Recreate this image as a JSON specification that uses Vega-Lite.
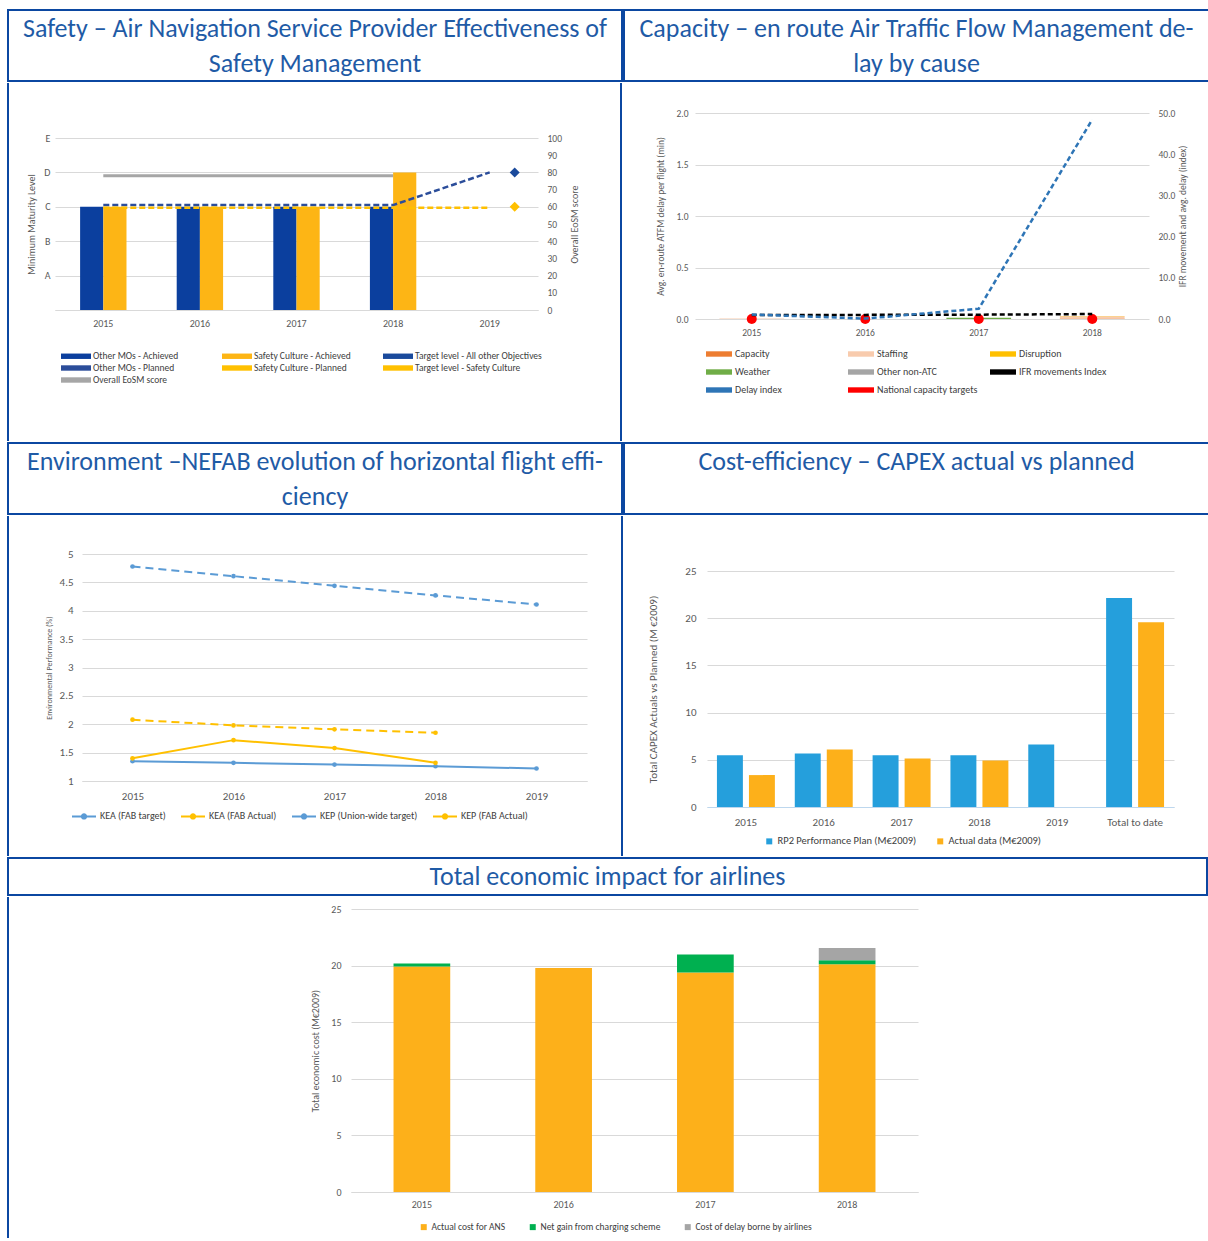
{
"$schema": "https://vega.github.io/schema/vega-lite/v6.json",
"background": "white",
"padding": {"left": 7, "top": 9, "right": 0, "bottom": 0},
"config": {
 "view": {"stroke": null},
 "font": "Carlito, Lato, sans-serif",
 "axis": {"labelColor": "#595959", "titleColor": "#595959", "titleFontWeight": "normal", "gridColor": "#d9d9d9", "domain": false, "ticks": false, "labelFont": "Carlito, Lato, sans-serif", "titleFont": "Carlito, Lato, sans-serif"},
 "legend": {"labelColor": "#404040", "padding": 0, "labelFont": "Carlito, Lato, sans-serif"},
 "title": {"font": "Carlito, Lato, sans-serif"}
},
"spacing": 0,
"resolve": {"scale": {"color": "independent"}},
"vconcat": [
 {
  "spacing": 0,
  "hconcat": [
   {"width": 614, "height": 71, "view": {"stroke": "#0b47a1", "strokeWidth": 2},
    "data": {"values": [{"t": "Safety – Air Navigation Service Provider Effectiveness of\nSafety Management"}]},
    "mark": {"type": "text", "lineBreak": "\n", "fontSize": 26, "lineHeight": 35, "color": "#1f5ba6", "baseline": "middle"},
    "encoding": {"text": {"field": "t", "type": "nominal"},
      "x": {"datum": 0.5, "type": "quantitative", "scale": {"domain": [0, 1]}, "axis": null},
      "y": {"datum": 0.7324, "type": "quantitative", "scale": {"domain": [0, 1]}, "axis": null}}},
   {"width": 585, "height": 71, "view": {"stroke": "#0b47a1", "strokeWidth": 2},
    "data": {"values": [{"t": "Capacity – en route Air Traffic Flow Management de-\nlay by cause"}]},
    "mark": {"type": "text", "lineBreak": "\n", "fontSize": 26, "lineHeight": 35, "color": "#1f5ba6", "baseline": "middle"},
    "encoding": {"text": {"field": "t", "type": "nominal"},
      "x": {"datum": 0.5, "type": "quantitative", "scale": {"domain": [0, 1]}, "axis": null},
      "y": {"datum": 0.7324, "type": "quantitative", "scale": {"domain": [0, 1]}, "axis": null}}}
  ]
 },
 {
  "spacing": 0,
  "resolve": {"scale": {"color": "independent"}},
  "hconcat": [
   {"width": 18, "height": 358, "data": {"values": [{"p": 0}]},
    "mark": {"type": "rule", "color": "#0b47a1", "strokeWidth": 2},
    "encoding": {"x": {"field": "p", "type": "quantitative", "scale": {"domain": [0, 1], "nice": false}, "axis": null}}},
   {
    "spacing": 0,
    "resolve": {"scale": {"color": "independent"}},
    "vconcat": [
     {"width": 1, "height": 50, "data": {"values": [{}]}, "mark": {"type": "rule", "strokeWidth": 0, "opacity": 0},
      "encoding": {"x": {"datum": 0, "type": "quantitative", "scale": {"domain": [0, 1]}, "axis": null}}},
     {
      "width": 483, "height": 172,
      "encoding": {
       "x": {"field": "year", "type": "nominal", "scale": {"domain": ["2015", "2016", "2017", "2018", "2019"], "paddingInner": 0, "paddingOuter": 0},
             "axis": {"title": null, "labelAngle": 0, "labelFontSize": 10, "labelPadding": 8, "domain": true, "domainColor": "#d9d9d9"}},
       "color": {"field": "series", "type": "nominal",
         "scale": {"domain": ["Other MOs - Achieved", "Safety Culture - Achieved", "Target level - All other Objectives", "Other MOs - Planned", "Safety Culture - Planned", "Target level - Safety Culture", "Overall EoSM score"],
                   "range": ["#0b3f9e", "#fdb515", "#1a4a9c", "#2b4d9a", "#ffc000", "#ffc000", "#a6a6a6"]},
         "legend": {"title": null, "orient": "none", "legendX": 15, "legendY": 212, "direction": "horizontal", "columns": 3, "gridAlign": "all", "columnPadding": 2, "rowPadding": 1,
           "labelFontSize": 9.5, "labelOffset": 11, "labelLimit": 300, "symbolSize": 144, "symbolType": "M-2.5,-0.45H2.5V0.45H-2.5Z", "symbolStrokeWidth": 0}}
      },
      "layer": [
       {
        "encoding": {"y": {"field": "value", "type": "quantitative", "stack": null, "scale": {"domain": [0, 100], "nice": false},
          "axis": {"orient": "left", "values": [0, 20, 40, 60, 80, 100], "labelExpr": "datum.value == 20 ? 'A' : datum.value == 40 ? 'B' : datum.value == 60 ? 'C' : datum.value == 80 ? 'D' : datum.value == 100 ? 'E' : ''",
                   "title": "Minimum Maturity Level", "titleFontSize": 10, "labelFontSize": 10, "labelPadding": 5, "titlePadding": 7, "grid": true}}},
        "layer": [
         {"data": {"values": [
           {"year": "2015", "series": "Other MOs - Achieved", "value": 60},
           {"year": "2016", "series": "Other MOs - Achieved", "value": 60},
           {"year": "2017", "series": "Other MOs - Achieved", "value": 60},
           {"year": "2018", "series": "Other MOs - Achieved", "value": 60}]},
          "mark": {"type": "bar", "width": {"band": 0.24}, "xOffset": -11.6}},
         {"data": {"values": [
           {"year": "2015", "series": "Safety Culture - Achieved", "value": 60},
           {"year": "2016", "series": "Safety Culture - Achieved", "value": 60},
           {"year": "2017", "series": "Safety Culture - Achieved", "value": 60},
           {"year": "2018", "series": "Safety Culture - Achieved", "value": 80}]},
          "mark": {"type": "bar", "width": {"band": 0.24}, "xOffset": 11.6}}
        ]
       },
       {
        "encoding": {"y": {"field": "value", "type": "quantitative", "scale": {"domain": [0, 100], "nice": false},
          "axis": {"orient": "right", "values": [0, 10, 20, 30, 40, 50, 60, 70, 80, 90, 100], "title": "Overall EoSM score", "titleAngle": 270, "titleBaseline": "top", "titleFontSize": 10, "labelFontSize": 9.5, "labelPadding": 9, "titlePadding": 8, "grid": false}}},
        "layer": [
         {"data": {"values": [
           {"year": "2015", "series": "Other MOs - Planned", "value": 61}, {"year": "2016", "series": "Other MOs - Planned", "value": 61},
           {"year": "2017", "series": "Other MOs - Planned", "value": 61}, {"year": "2018", "series": "Other MOs - Planned", "value": 61},
           {"year": "2019", "series": "Other MOs - Planned", "value": 80},
           {"year": "2015", "series": "Safety Culture - Planned", "value": 59.5}, {"year": "2016", "series": "Safety Culture - Planned", "value": 59.5},
           {"year": "2017", "series": "Safety Culture - Planned", "value": 59.5}, {"year": "2018", "series": "Safety Culture - Planned", "value": 59.5},
           {"year": "2019", "series": "Safety Culture - Planned", "value": 59.5}]},
          "mark": {"type": "line", "strokeDash": [6, 3], "strokeWidth": 2.5}},
         {"data": {"values": [
           {"year": "2015", "series": "Overall EoSM score", "value": 78}, {"year": "2016", "series": "Overall EoSM score", "value": 78},
           {"year": "2017", "series": "Overall EoSM score", "value": 78}, {"year": "2018", "series": "Overall EoSM score", "value": 78}]},
          "mark": {"type": "line", "strokeWidth": 3}},
         {"data": {"values": [
           {"year": "2019", "series": "Target level - All other Objectives", "value": 80},
           {"year": "2019", "series": "Target level - Safety Culture", "value": 60}]},
          "mark": {"type": "point", "shape": "diamond", "filled": true, "size": 100, "opacity": 1, "xOffset": 25}}
        ]
       }
      ],
      "resolve": {"scale": {"y": "independent"}}
     }
    ]
   },
   {"width": 41, "height": 358, "data": {"values": [{"p": 1}]},
    "mark": {"type": "rule", "color": "#0b47a1", "strokeWidth": 2},
    "encoding": {"x": {"field": "p", "type": "quantitative", "scale": {"domain": [0, 1], "nice": false}, "axis": null}}},
   {"width": 33, "height": 1, "data": {"values": [{}]}, "mark": {"type": "rule", "strokeWidth": 0, "opacity": 0},
    "encoding": {"x": {"datum": 0, "type": "quantitative", "scale": {"domain": [0, 1]}, "axis": null}}},
   {
    "spacing": 0,
    "resolve": {"scale": {"color": "independent"}},
    "vconcat": [
     {"width": 1, "height": 25, "data": {"values": [{}]}, "mark": {"type": "rule", "strokeWidth": 0, "opacity": 0},
      "encoding": {"x": {"datum": 0, "type": "quantitative", "scale": {"domain": [0, 1]}, "axis": null}}},
     {
      "width": 454, "height": 206,
      "encoding": {
       "x": {"field": "year", "type": "nominal", "scale": {"domain": ["2015", "2016", "2017", "2018"], "paddingInner": 0.43, "paddingOuter": 0.215},
             "axis": {"title": null, "labelAngle": 0, "labelFontSize": 9.5, "labelPadding": 8}},
       "color": {"field": "series", "type": "nominal",
         "scale": {"domain": ["Capacity", "Staffing", "Disruption", "Weather", "Other non-ATC", "IFR movements Index", "Delay index", "National capacity targets"],
                   "range": ["#ed7d31", "#f8cbad", "#ffc000", "#70ad47", "#a5a5a5", "#000000", "#2e75b6", "#ff0000"]},
         "legend": {"title": null, "orient": "none", "legendX": 18, "legendY": 235, "direction": "horizontal", "columns": 3, "gridAlign": "all", "columnPadding": 11, "rowPadding": 7,
           "labelFontSize": 10, "labelOffset": 10, "labelLimit": 300, "symbolSize": 144, "symbolType": "M-2.17,-0.45H2.17V0.45H-2.17Z", "symbolStrokeWidth": 0}}
      },
      "layer": [
       {
        "encoding": {"y": {"field": "value", "type": "quantitative", "scale": {"domain": [0, 2], "nice": false},
          "axis": {"orient": "left", "values": [0, 0.5, 1, 1.5, 2], "format": ".1f", "title": "Avg. en-route ATFM delay per flight (min)", "titleFontSize": 9.5, "labelFontSize": 9.5, "labelPadding": 7, "titlePadding": 10, "grid": true}}},
        "layer": [
         {"data": {"values": [
           {"year": "2015", "series": "Staffing", "value": 0.004, "k": 2},
           {"year": "2017", "series": "Weather", "value": 0.012, "k": 4},
           {"year": "2018", "series": "Capacity", "value": 0.005, "k": 1},
           {"year": "2018", "series": "Staffing", "value": 0.022, "k": 2},
           {"year": "2018", "series": "Disruption", "value": 0.003, "k": 3}]},
          "mark": {"type": "bar"},
          "encoding": {"order": {"field": "k", "type": "quantitative"}}},
         {"data": {"values": [
           {"year": "2015", "series": "National capacity targets", "value": 0}, {"year": "2016", "series": "National capacity targets", "value": 0},
           {"year": "2017", "series": "National capacity targets", "value": 0}, {"year": "2018", "series": "National capacity targets", "value": 0}]},
          "mark": {"type": "circle", "size": 100, "opacity": 1}}
        ]
       },
       {
        "encoding": {"y": {"field": "value", "type": "quantitative", "scale": {"domain": [0, 50], "nice": false},
          "axis": {"orient": "right", "values": [0, 10, 20, 30, 40, 50], "format": ".1f", "title": "IFR movement and avg. delay (index)", "titleAngle": 270, "titleBaseline": "top", "titleFontSize": 9.5, "labelFontSize": 9.5, "labelPadding": 9, "titlePadding": 3, "grid": false}}},
        "layer": [
         {"data": {"values": [
           {"year": "2015", "series": "IFR movements Index", "value": 1.0}, {"year": "2016", "series": "IFR movements Index", "value": 1.0},
           {"year": "2017", "series": "IFR movements Index", "value": 1.05}, {"year": "2018", "series": "IFR movements Index", "value": 1.2},
           {"year": "2015", "series": "Delay index", "value": 1.1}, {"year": "2016", "series": "Delay index", "value": 0.1},
           {"year": "2017", "series": "Delay index", "value": 2.5}, {"year": "2018", "series": "Delay index", "value": 48.4}]},
          "mark": {"type": "line", "strokeDash": [5, 3], "strokeWidth": 2.5}}
        ]
       }
      ],
      "resolve": {"scale": {"y": "independent"}}
     }
    ]
   }
  ]
 },
 {
  "spacing": 0,
  "hconcat": [
   {"width": 614, "height": 71, "view": {"stroke": "#0b47a1", "strokeWidth": 2},
    "data": {"values": [{"t": "Environment –NEFAB evolution of horizontal flight effi-\nciency"}]},
    "mark": {"type": "text", "lineBreak": "\n", "fontSize": 26, "lineHeight": 35, "color": "#1f5ba6", "baseline": "middle"},
    "encoding": {"text": {"field": "t", "type": "nominal"},
      "x": {"datum": 0.5, "type": "quantitative", "scale": {"domain": [0, 1]}, "axis": null},
      "y": {"datum": 0.7324, "type": "quantitative", "scale": {"domain": [0, 1]}, "axis": null}}},
   {"width": 585, "height": 71, "view": {"stroke": "#0b47a1", "strokeWidth": 2},
    "data": {"values": [{"t": "Cost-efficiency – CAPEX actual vs planned"}]},
    "mark": {"type": "text", "fontSize": 26, "color": "#1f5ba6", "baseline": "middle"},
    "encoding": {"text": {"field": "t", "type": "nominal"},
      "x": {"datum": 0.5, "type": "quantitative", "scale": {"domain": [0, 1]}, "axis": null},
      "y": {"datum": 0.7324, "type": "quantitative", "scale": {"domain": [0, 1]}, "axis": null}}}
  ]
 },
 {
  "spacing": 0,
  "resolve": {"scale": {"color": "independent"}},
  "hconcat": [
   {"width": 37, "height": 340, "data": {"values": [{"p": 0}]},
    "mark": {"type": "rule", "color": "#0b47a1", "strokeWidth": 2},
    "encoding": {"x": {"field": "p", "type": "quantitative", "scale": {"domain": [0, 1], "nice": false}, "axis": null}}},
   {
    "spacing": 0,
    "resolve": {"scale": {"color": "independent"}},
    "vconcat": [
     {"width": 1, "height": 32, "data": {"values": [{}]}, "mark": {"type": "rule", "strokeWidth": 0, "opacity": 0},
      "encoding": {"x": {"datum": 0, "type": "quantitative", "scale": {"domain": [0, 1]}, "axis": null}}},
     {
      "width": 505, "height": 227,
      "encoding": {
       "x": {"field": "year", "type": "nominal", "scale": {"domain": ["2015", "2016", "2017", "2018", "2019"]},
             "axis": {"title": null, "labelAngle": 0, "labelFontSize": 11, "labelPadding": 9, "domain": true, "domainColor": "#d9d9d9"}},
       "y": {"field": "value", "type": "quantitative", "scale": {"domain": [1, 5], "zero": false, "nice": false},
             "axis": {"values": [1, 1.5, 2, 2.5, 3, 3.5, 4, 4.5, 5], "format": "~g", "title": "Environmental Performance (%)", "titleFontSize": 8, "labelFontSize": 11, "labelPadding": 9, "titlePadding": 6, "grid": true}},
       "color": {"field": "series", "type": "nominal",
         "scale": {"domain": ["KEA (FAB target)", "KEA (FAB Actual)", "KEP (Union-wide target)", "KEP (FAB Actual)"], "range": ["#5b9bd5", "#ffc000", "#5b9bd5", "#ffc000"]},
         "legend": {"title": null, "orient": "none", "legendX": -11, "legendY": 249, "direction": "horizontal", "columnPadding": 11,
           "labelFontSize": 10, "labelOffset": 3, "labelLimit": 300, "symbolSize": 576, "symbolStrokeWidth": 2,
           "symbolType": "M-1,0H1M-0.18,0a0.18,0.18 0 1,0 0.36,0a0.18,0.18 0 1,0 -0.36,0"}}
      },
      "layer": [
       {"data": {"values": [
         {"year": "2015", "series": "KEA (FAB target)", "value": 1.35}, {"year": "2016", "series": "KEA (FAB target)", "value": 1.32},
         {"year": "2017", "series": "KEA (FAB target)", "value": 1.29}, {"year": "2018", "series": "KEA (FAB target)", "value": 1.26},
         {"year": "2019", "series": "KEA (FAB target)", "value": 1.22},
         {"year": "2015", "series": "KEA (FAB Actual)", "value": 1.4}, {"year": "2016", "series": "KEA (FAB Actual)", "value": 1.72},
         {"year": "2017", "series": "KEA (FAB Actual)", "value": 1.58}, {"year": "2018", "series": "KEA (FAB Actual)", "value": 1.32}]},
        "mark": {"type": "line", "strokeWidth": 2, "point": {"filled": true, "size": 22}}},
       {"data": {"values": [
         {"year": "2015", "series": "KEP (Union-wide target)", "value": 4.78}, {"year": "2016", "series": "KEP (Union-wide target)", "value": 4.61},
         {"year": "2017", "series": "KEP (Union-wide target)", "value": 4.44}, {"year": "2018", "series": "KEP (Union-wide target)", "value": 4.27},
         {"year": "2019", "series": "KEP (Union-wide target)", "value": 4.11},
         {"year": "2015", "series": "KEP (FAB Actual)", "value": 2.08}, {"year": "2016", "series": "KEP (FAB Actual)", "value": 1.98},
         {"year": "2017", "series": "KEP (FAB Actual)", "value": 1.91}, {"year": "2018", "series": "KEP (FAB Actual)", "value": 1.85}]},
        "mark": {"type": "line", "strokeWidth": 2, "strokeDash": [8, 5], "point": {"filled": true, "size": 22}}}
      ]
     }
    ]
   },
   {"width": 35, "height": 340, "data": {"values": [{"p": 1}]},
    "mark": {"type": "rule", "color": "#0b47a1", "strokeWidth": 2},
    "encoding": {"x": {"field": "p", "type": "quantitative", "scale": {"domain": [0, 1], "nice": false}, "axis": null}}},
   {"width": 24, "height": 1, "data": {"values": [{}]}, "mark": {"type": "rule", "strokeWidth": 0, "opacity": 0},
    "encoding": {"x": {"datum": 0, "type": "quantitative", "scale": {"domain": [0, 1]}, "axis": null}}},
   {
    "spacing": 0,
    "resolve": {"scale": {"color": "independent"}},
    "vconcat": [
     {"width": 1, "height": 49, "data": {"values": [{}]}, "mark": {"type": "rule", "strokeWidth": 0, "opacity": 0},
      "encoding": {"x": {"datum": 0, "type": "quantitative", "scale": {"domain": [0, 1]}, "axis": null}}},
     {
      "width": 467, "height": 236,
      "encoding": {
       "x": {"field": "year", "type": "nominal", "scale": {"domain": ["2015", "2016", "2017", "2018", "2019", "Total to date"], "paddingInner": 0.256, "paddingOuter": 0.128},
             "axis": {"title": null, "labelAngle": 0, "labelFontSize": 11, "labelPadding": 9, "domain": true, "domainColor": "#bdd7ee"}},
       "y": {"field": "value", "type": "quantitative", "stack": null, "scale": {"domain": [0, 25], "nice": false},
             "axis": {"values": [0, 5, 10, 15, 20, 25], "title": "Total CAPEX Actuals vs Planned (M €2009)", "titleFontSize": 11, "labelFontSize": 11, "labelPadding": 11, "titlePadding": 26, "grid": true}},
       "color": {"field": "series", "type": "nominal",
         "scale": {"domain": ["RP2 Performance Plan (M€2009)", "Actual data (M€2009)"], "range": ["#259fdc", "#fdb01a"]},
         "legend": {"title": null, "orient": "none", "legendX": 57, "legendY": 265, "direction": "horizontal", "symbolType": "square", "symbolSize": 36, "symbolStrokeWidth": 0,
                    "labelFontSize": 10.5, "labelOffset": 3, "columnPadding": 18, "labelLimit": 300}}
      },
      "layer": [
       {"data": {"values": [
         {"year": "2015", "series": "RP2 Performance Plan (M€2009)", "value": 5.49},
         {"year": "2016", "series": "RP2 Performance Plan (M€2009)", "value": 5.67},
         {"year": "2017", "series": "RP2 Performance Plan (M€2009)", "value": 5.49},
         {"year": "2018", "series": "RP2 Performance Plan (M€2009)", "value": 5.49},
         {"year": "2019", "series": "RP2 Performance Plan (M€2009)", "value": 6.62},
         {"year": "Total to date", "series": "RP2 Performance Plan (M€2009)", "value": 22.15}]},
        "mark": {"type": "bar", "width": {"band": 0.448}, "xOffset": -16}},
       {"data": {"values": [
         {"year": "2015", "series": "Actual data (M€2009)", "value": 3.38},
         {"year": "2016", "series": "Actual data (M€2009)", "value": 6.09},
         {"year": "2017", "series": "Actual data (M€2009)", "value": 5.14},
         {"year": "2018", "series": "Actual data (M€2009)", "value": 4.93},
         {"year": "Total to date", "series": "Actual data (M€2009)", "value": 19.58}]},
        "mark": {"type": "bar", "width": {"band": 0.448}, "xOffset": 16}}
      ]
     }
    ]
   }
  ]
 },
 {
  "spacing": 0,
  "hconcat": [
   {"width": 1199, "height": 37, "view": {"stroke": "#0b47a1", "strokeWidth": 2},
    "data": {"values": [{"t": "Total economic impact for airlines"}]},
    "mark": {"type": "text", "fontSize": 26, "color": "#1f5ba6", "baseline": "middle"},
    "encoding": {"text": {"field": "t", "type": "nominal"},
      "x": {"datum": 0.5, "type": "quantitative", "scale": {"domain": [0, 1]}, "axis": null},
      "y": {"datum": 0.5, "type": "quantitative", "scale": {"domain": [0, 1]}, "axis": null}}}
  ]
 },
 {
  "spacing": 0,
  "hconcat": [
   {"width": 302, "height": 341, "data": {"values": [{"p": 0}]},
    "mark": {"type": "rule", "color": "#0b47a1", "strokeWidth": 2},
    "encoding": {"x": {"field": "p", "type": "quantitative", "scale": {"domain": [0, 1], "nice": false}, "axis": null}}},
   {
    "spacing": 0,
    "resolve": {"scale": {"color": "independent"}},
    "vconcat": [
     {"width": 1, "height": 7, "data": {"values": [{}]}, "mark": {"type": "rule", "strokeWidth": 0, "opacity": 0},
      "encoding": {"x": {"datum": 0, "type": "quantitative", "scale": {"domain": [0, 1]}, "axis": null}}},
     {
      "width": 567, "height": 283,
      "data": {"values": [
        {"year": "2015", "series": "Actual cost for ANS", "value": 19.92, "k": 1}, {"year": "2015", "series": "Net gain from charging scheme", "value": 0.27, "k": 2},
        {"year": "2016", "series": "Actual cost for ANS", "value": 19.78, "k": 1},
        {"year": "2017", "series": "Actual cost for ANS", "value": 19.39, "k": 1}, {"year": "2017", "series": "Net gain from charging scheme", "value": 1.6, "k": 2},
        {"year": "2018", "series": "Actual cost for ANS", "value": 20.13, "k": 1}, {"year": "2018", "series": "Net gain from charging scheme", "value": 0.35, "k": 2},
        {"year": "2018", "series": "Cost of delay borne by airlines", "value": 1.07, "k": 3}]},
      "mark": {"type": "bar"},
      "encoding": {
       "x": {"field": "year", "type": "nominal", "scale": {"domain": ["2015", "2016", "2017", "2018"], "paddingInner": 0.6, "paddingOuter": 0.3},
             "axis": {"title": null, "labelAngle": 0, "labelFontSize": 10, "labelPadding": 7, "domain": true, "domainColor": "#d9d9d9"}},
       "y": {"field": "value", "type": "quantitative", "scale": {"domain": [0, 25], "nice": false},
             "axis": {"values": [0, 5, 10, 15, 20, 25], "title": "Total economic cost (M€2009)", "titleFontSize": 10, "labelFontSize": 10, "labelPadding": 10, "titlePadding": 10, "grid": true}},
       "color": {"field": "series", "type": "nominal",
         "scale": {"domain": ["Actual cost for ANS", "Net gain from charging scheme", "Cost of delay borne by airlines"], "range": ["#fdb01a", "#00b050", "#a5a5a5"]},
         "legend": {"title": null, "orient": "none", "legendX": 68, "legendY": 313, "direction": "horizontal", "symbolType": "square", "symbolSize": 36, "symbolStrokeWidth": 0,
                    "labelFontSize": 9.5, "labelOffset": 3, "columnPadding": 22, "labelLimit": 300}},
       "order": {"field": "k", "type": "quantitative"}
      }
     }
    ]
   }
  ]
 }
]
}
